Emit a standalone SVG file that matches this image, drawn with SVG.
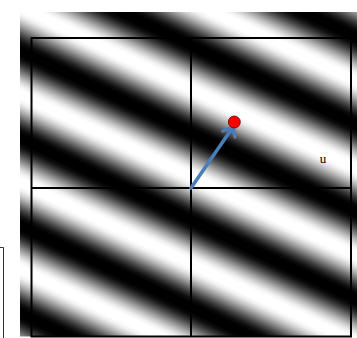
<svg xmlns="http://www.w3.org/2000/svg" width="357" height="338" viewBox="0 0 357 338">
  <style>
    .grid { fill: none; stroke: #000; stroke-width: 2; }
    .arrow { fill: none; stroke: #4A7EBB; stroke-width: 3.5; stroke-linecap: round; stroke-linejoin: round; }
    .lbl { font-family: "Liberation Serif", "Times New Roman", serif; font-size: 13px; fill: #000; }
  </style>
  <defs>
    <linearGradient id="grating" gradientUnits="userSpaceOnUse" x1="25" y1="53" x2="59.1" y2="-18.0" spreadMethod="repeat">
      <stop offset="0" stop-color="#000"/>
      <stop offset="0.05" stop-color="#000"/>
      <stop offset="0.1" stop-color="#0e0e0e"/>
      <stop offset="0.15" stop-color="#2d2d2d"/>
      <stop offset="0.2" stop-color="#545454"/>
      <stop offset="0.25" stop-color="#808080"/>
      <stop offset="0.3" stop-color="#ababab"/>
      <stop offset="0.35" stop-color="#d2d2d2"/>
      <stop offset="0.4" stop-color="#f1f1f1"/>
      <stop offset="0.45" stop-color="#fff"/>
      <stop offset="0.55" stop-color="#fff"/>
      <stop offset="0.6" stop-color="#f1f1f1"/>
      <stop offset="0.65" stop-color="#d2d2d2"/>
      <stop offset="0.7" stop-color="#ababab"/>
      <stop offset="0.75" stop-color="#808080"/>
      <stop offset="0.8" stop-color="#545454"/>
      <stop offset="0.85" stop-color="#2d2d2d"/>
      <stop offset="0.9" stop-color="#0e0e0e"/>
      <stop offset="0.95" stop-color="#000"/>
      <stop offset="1" stop-color="#000"/>
    </linearGradient>
  </defs>
  <rect x="0" y="0" width="357" height="338" fill="#fff"/>
  <g id="grating-image">
    <rect x="20" y="12" width="337" height="324.5" fill="url(#grating)"/>
  </g>
  <g id="side-box">
    <path d="M0,247.5 H3.5 V338" fill="none" stroke="#333" stroke-width="1"/>
  </g>
  <g id="grid">
    <rect class="grid" x="31.5" y="38" width="319.5" height="298.5"/>
    <line class="grid" x1="191" y1="38" x2="191" y2="336.5"/>
    <line class="grid" x1="31.5" y1="188" x2="351" y2="188"/>
  </g>
  <g id="connectors">
    <path class="arrow" d="M191,188 L233,127"/>
    <path class="arrow" d="M223,131 L233,127 L235,137"/>
  </g>
  <g id="point">
    <circle cx="234.3" cy="122" r="6" fill="#f00" stroke="#600" stroke-width="0.8"/>
  </g>
  <g id="label-u">
    <text class="lbl" x="323" y="163" text-anchor="middle">u</text>
  </g>
</svg>
